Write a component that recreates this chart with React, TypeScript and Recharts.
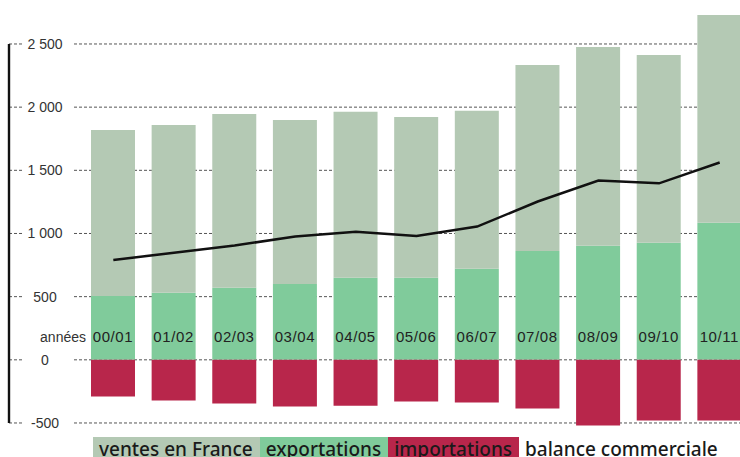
import React from "react";
import {
  ComposedChart,
  Bar,
  Line,
  XAxis,
  YAxis,
  CartesianGrid,
  ReferenceLine,
  Legend,
  LabelList,
} from "recharts";

const years = ["00/01", "01/02", "02/03", "03/04", "04/05", "05/06", "06/07", "07/08", "08/09", "09/10", "10/11"];
const ventesFrance = [1314, 1329, 1376, 1298, 1314, 1274, 1251, 1472, 1574, 1487, 1645];
const exportations = [506, 530, 570, 601, 649, 649, 720, 862, 902, 926, 1084];
const importations = [-290, -322, -346, -369, -364, -330, -338, -385, -520, -480, -480];
const balance = [791, 847, 905, 976, 1013, 981, 1055, 1253, 1419, 1397, 1562];
const yTicks = [-500, 0, 500, 1000, 1500, 2000, 2500];

const COLORS = {
  ventes: "#b4c9b4",
  exports: "#80cb9b",
  imports: "#b8264b",
  line: "#111111",
};

const data = years.map((y, i) => ({
  year: y,
  ventes: ventesFrance[i],
  exportations: exportations[i],
  importations: importations[i],
  balance: balance[i],
}));

const fmt = (v: number) => {
  const neg = v < 0;
  const s = String(Math.abs(v)).replace(/\B(?=(\d{3})+(?!\d))/g, " ");
  return (neg ? "-" : "") + s;
};

const YTick = (props: any) => {
  const { x, y, payload } = props;
  const cx = x + 28;
  return (
    <g>
      <rect x={cx - 22} y={y - 8} width={49} height={16} fill="#ffffff" />
      <text
        x={cx}
        y={y}
        textAnchor="middle"
        dominantBaseline="central"
        fontFamily="Liberation Sans, Arial, sans-serif"
        fontSize={14}
        fill="#333"
      >
        {fmt(payload.value)}
      </text>
    </g>
  );
};

const YearLabel = (props: any) => {
  const { x, y, width, height, value, index } = props;
  const bottom = y + height;
  const cx = x + width / 2;
  return (
    <g>
      {index === 0 && (
        <text
          x={x - 5}
          y={bottom - 23}
          textAnchor="end"
          dominantBaseline="central"
          fontFamily="Liberation Sans, Arial, sans-serif"
          fontSize={14}
          fill="#333"
        >
          années
        </text>
      )}
      <text
        x={cx}
        y={bottom - 23}
        textAnchor="middle"
        dominantBaseline="central"
        fontFamily="Liberation Sans, Arial, sans-serif"
        fontSize={15}
        letterSpacing={0.6}
        fill="#222"
      >
        {value}
      </text>
    </g>
  );
};

const legendItems = [
  { label: "ventes en France", bg: COLORS.ventes },
  { label: "exportations", bg: COLORS.exports },
  { label: "importations", bg: COLORS.imports },
  { label: "balance commerciale", bg: "transparent" },
];

const LegendContent = () => (
  <div style={{ display: "flex", flexDirection: "row", alignItems: "flex-start" }}>
    {legendItems.map((it) => (
      <span
        key={it.label}
        style={{
          background: it.bg,
          padding: "0 7px 0 6px",
          height: 26,
          lineHeight: "25px",
          fontFamily: "'Noto Sans', 'Open Sans', sans-serif",
          fontWeight: 500,
          fontSize: 19,
          color: "#1a1a1a",
          whiteSpace: "nowrap",
        }}
      >
        {it.label}
      </span>
    ))}
  </div>
);

export default function App() {
  return (
    <div
      style={{
        position: "absolute",
        left: 0,
        top: 0,
        width: 740,
        height: 457,
        overflow: "hidden",
        background: "#fff",
      }}
    >
      <ComposedChart
        width={752}
        height={457}
        data={data}
        stackOffset="sign"
        margin={{ top: 12.4, right: 2, bottom: 27.7, left: 9 }}
      >
        <CartesianGrid
          horizontal
          vertical={false}
          stroke="#555"
          strokeDasharray="3 2"
          horizontalValues={yTicks}
        />
        <XAxis dataKey="year" hide padding={{ left: 74, right: 0 }} />
        <XAxis xAxisId="num" type="number" domain={[0, 1]} allowDataOverflow hide />
        <YAxis
          mirror
          orientation="left"
          domain={[-550, 2750]}
          ticks={yTicks}
          axisLine={false}
          tickLine={false}
          tick={<YTick />}
          interval={0}
          allowDataOverflow
        />
        <ReferenceLine
          xAxisId="num"
          segment={[
            { x: 0, y: 2500 },
            { x: 0, y: -500 },
          ]}
          stroke="#111"
          strokeWidth={2.4}
        />
        <Bar dataKey="exportations" stackId="a" fill={COLORS.exports} barSize={44} isAnimationActive={false}>
          <LabelList dataKey="year" content={<YearLabel />} />
        </Bar>
        <Bar dataKey="ventes" stackId="a" fill={COLORS.ventes} barSize={44} isAnimationActive={false} />
        <Bar dataKey="importations" stackId="a" fill={COLORS.imports} barSize={44} isAnimationActive={false} />
        <Line
          dataKey="balance"
          type="linear"
          stroke={COLORS.line}
          strokeWidth={2.5}
          dot={false}
          isAnimationActive={false}
        />
        <Legend
          layout="horizontal"
          verticalAlign="middle"
          align="center"
          content={<LegendContent />}
          wrapperStyle={{ top: 437, left: 93, width: 660, height: 26 }}
        />
      </ComposedChart>
    </div>
  );
}
